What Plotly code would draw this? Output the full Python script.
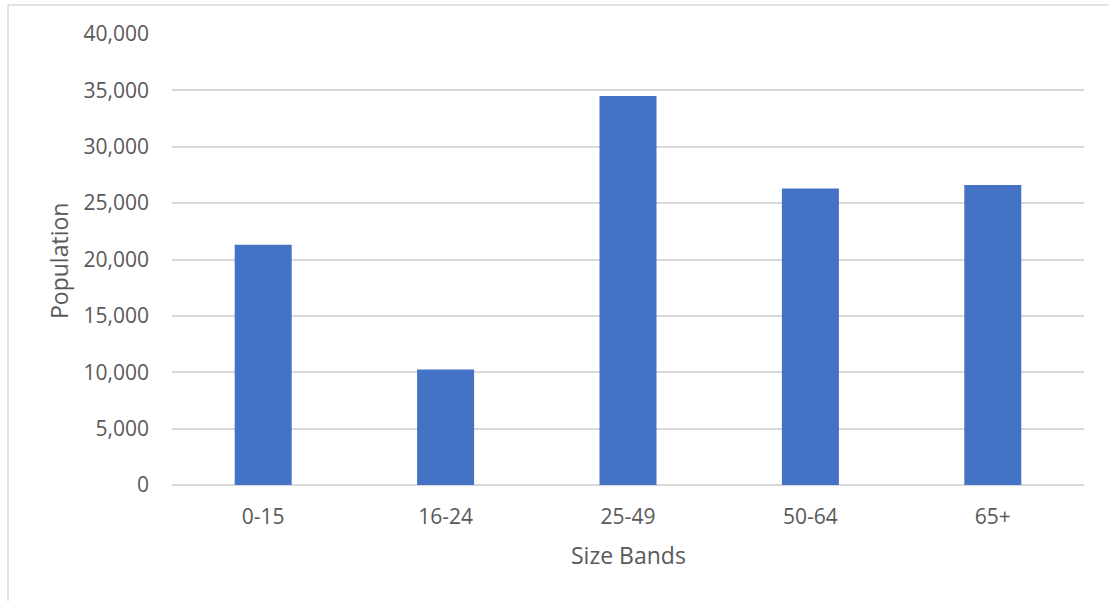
import plotly.graph_objects as go

# Population by age band
bands = ["0-15", "16-24", "25-49", "50-64", "65+"]
population = [21300, 10250, 34500, 26300, 26600]

y_ticks = [0, 5000, 10000, 15000, 20000, 25000, 30000, 35000, 40000]
y_tick_text = ["0", "5,000", "10,000", "15,000", "20,000", "25,000", "30,000", "35,000", "40,000"]

TEXT = "#595959"
GRID = "#d9d9d9"
FONT = "Open Sans"

# plot area in pixels: x 172..1084, y 34..485
L, R, T, B = 172, 25, 34, 116
PW, PH = 1109 - L - R, 601 - T - B


def px_x(px):
    return (px - L) / PW


def px_y(py):
    return (601 - B - py) / PH


fig = go.Figure(
    go.Bar(
        x=bands,
        y=population,
        marker=dict(color="#4472C4", line=dict(width=0)),
        hovertemplate="%{x}: %{y:,}<extra></extra>",
    )
)

fig.update_layout(
    width=1109,
    height=601,
    margin=dict(l=L, r=R, t=T, b=B),
    paper_bgcolor="white",
    plot_bgcolor="white",
    bargap=0.6875,
    showlegend=False,
    font=dict(family=FONT, size=21, color=TEXT),
    xaxis=dict(
        showgrid=False,
        showline=False,
        zeroline=False,
        ticks="",
        ticklabelstandoff=17,
        tickfont=dict(size=21, color=TEXT),
    ),
    yaxis=dict(
        range=[0, 40000],
        tickvals=y_ticks,
        ticktext=y_tick_text,
        showgrid=True,
        gridcolor=GRID,
        gridwidth=1.5,
        zeroline=True,
        zerolinecolor=GRID,
        zerolinewidth=1.5,
        showline=False,
        ticks="",
        ticklabelstandoff=22,
        tickfont=dict(size=21, color=TEXT),
    ),
    annotations=[
        dict(text="Size Bands", xref="paper", yref="paper", x=0.5, y=px_y(555),
             xanchor="center", yanchor="middle", showarrow=False,
             font=dict(size=23, color=TEXT)),
        dict(text="Population", xref="paper", yref="paper", x=px_x(59), y=px_y(261),
             xanchor="center", yanchor="middle", textangle=-90, showarrow=False,
             font=dict(size=23, color=TEXT)),
    ],
    shapes=[
        # chart frame: top and left edges
        dict(type="line", xref="paper", yref="paper",
             x0=px_x(8), x1=px_x(1120), y0=px_y(5), y1=px_y(5),
             line=dict(color=GRID, width=1.5)),
        dict(type="line", xref="paper", yref="paper",
             x0=px_x(8), x1=px_x(8), y0=px_y(5), y1=px_y(620),
             line=dict(color=GRID, width=1.5)),
    ],
)

fig.write_html("out.html", config={"displayModeBar": False})
